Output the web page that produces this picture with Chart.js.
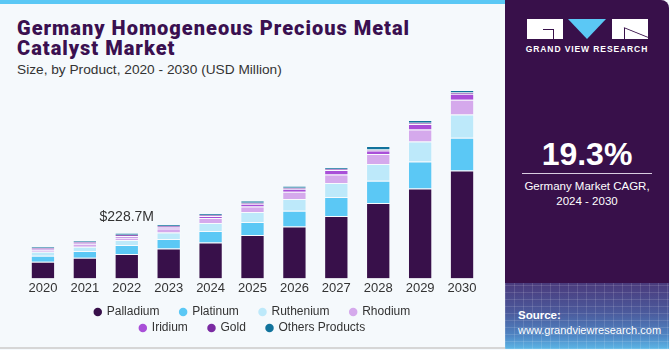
<!DOCTYPE html>
<html>
<head>
<meta charset="utf-8">
<script src="https://cdn.jsdelivr.net/npm/chart.js@4"></script>
<style>
  body { margin: 0; width: 670px; height: 350px; background: #f5f9fc; font-family: "Liberation Sans", Arial, sans-serif; position: relative; overflow: hidden; }
  .topline { position: absolute; left: 0; top: 0; width: 505px; height: 4px; background: #5bc8f5; }
  .bottomline { position: absolute; left: 0; top: 347px; width: 505px; height: 2px; background: #d6d6d6; }
  .title { position: absolute; left: 17px; top: 18px; font-family: Roboto, "Liberation Sans", Arial, sans-serif; font-weight: 900; font-size: 20px; line-height: 20px; letter-spacing: 1px; color: #3a1050; }
  .subtitle { position: absolute; left: 17px; top: 62px; font-size: 13.7px; color: #333; }
  #wrap { position: absolute; left: 0; top: 80px; width: 505px; height: 268px; }
  .panel { position: absolute; left: 505px; top: 0; width: 164px; height: 349px; background: #38104a; border-top-right-radius: 8px; overflow: hidden; color: #fff; }
  .panel .grid { position: absolute; left: 0; top: 283px; width: 100%; height: 66px;
    background:
      repeating-linear-gradient(90deg, rgba(255,255,255,0.12) 0 1px, transparent 1px 9px),
      repeating-linear-gradient(0deg, rgba(255,255,255,0.12) 0 1px, transparent 1px 7px),
      linear-gradient(to bottom, #4a3a7c 0%, #4b5a9c 45%, #4f86c4 80%, #5cb6e6 100%); }
  .logo { position: absolute; left: 22px; top: 19px; width: 121px; height: 20px; }
  .logo .g { position: absolute; left: 0; top: 0; width: 36px; height: 20px; background: #fff; }
  .logo .g:before { content: ""; position: absolute; left: 16px; top: 10px; width: 10px; height: 1px; background: #38104a; }
  .logo .g:after { content: ""; position: absolute; left: 26px; top: 10px; width: 1px; height: 10px; background: #38104a; }
  .logo .v { position: absolute; left: 41px; top: 0; width: 0; height: 0; border-left: 19.5px solid transparent; border-right: 19.5px solid transparent; border-top: 20px solid #5bc8f5; }
  .logo .r { position: absolute; left: 85px; top: 0; width: 36px; height: 20px; background: #fff; }
  .logo .r:before { content: ""; position: absolute; left: 12px; top: 9px; width: 1px; height: 11px; background: #38104a; }
  .logo .r:after { content: ""; position: absolute; left: 11px; top: 13px; width: 26px; height: 1px; background: #38104a; transform: rotate(22deg); }
  .gvr { position: absolute; left: 0; top: 44px; width: 164px; text-align: center; font-size: 8.5px; font-weight: bold; letter-spacing: 0.9px; }
  .cagr { position: absolute; left: 0; top: 136px; width: 164px; text-align: center; font-size: 32px; font-weight: bold; }
  .rule { position: absolute; left: 17px; top: 173px; width: 130px; height: 1px; background: #d8cde0; }
  .cagrtxt { position: absolute; left: 0; top: 179px; width: 164px; text-align: center; font-size: 11.5px; line-height: 14.5px; }
  .source { position: absolute; left: 13px; top: 308px; font-size: 11px; line-height: 15px; }
  .source b { font-size: 11.5px; }
</style>
</head>
<body>
<div class="topline"></div>
<div class="title">Germany Homogeneous Precious Metal<br>Catalyst Market</div>
<div class="subtitle">Size, by Product, 2020 - 2030 (USD Million)</div>
<div id="wrap"><canvas id="chart"></canvas></div>
<div class="bottomline"></div>
<div class="panel">
  <div class="grid"></div>
  <div class="logo"><div class="g"></div><div class="v"></div><div class="r"></div></div>
  <div class="gvr">GRAND VIEW RESEARCH</div>
  <div class="cagr">19.3%</div>
  <div class="rule"></div>
  <div class="cagrtxt">Germany Market CAGR,<br>2024 - 2030</div>
  <div class="source"><b>Source:</b><br>www.grandviewresearch.com</div>
</div>
<script>
const years = ['2020', '2021', '2022', '2023', '2024', '2025', '2026', '2027', '2028', '2029', '2030'];

const palladium = [83, 103, 121.5, 150, 180, 216.5, 260, 311.5, 376.5, 450, 540];
const platinum  = [30, 33.5, 45, 46.5, 56.5, 65, 78.5, 95, 111.5, 135, 163.5];
const ruthenium = [20, 21.5, 25, 33.5, 40, 50, 58.5, 70, 83.5, 100, 116.5];
const rhodium   = [10, 15, 11.5, 20, 25, 28.5, 36.5, 43.5, 50, 60, 73.5];
const iridium   = [5, 5, 9, 6.5, 10, 13.5, 15, 21.5, 18.5, 26.5, 30];
const gold      = [5, 5, 6.5, 5, 5, 5, 5, 5, 5, 6.5, 6.5];
const others    = [7, 8.5, 10.2, 8.5, 8.5, 11.5, 8.5, 8.5, 16.5, 13.5, 11.5];

const seriesNames = ['Palladium', 'Platinum', 'Ruthenium', 'Rhodium', 'Iridium', 'Gold', 'Others Products'];
const seriesColors = ['#38104a', '#5bc8f5', '#bde9fa', '#d5a9ec', '#a94fd8', '#7a2aa2', '#11739c'];
const seriesData = [palladium, platinum, ruthenium, rhodium, iridium, gold, others];

const labelIndex = 2;
const labelText = '$228.7M';

const legendFont = { size: 12, family: '"Liberation Sans", Arial, sans-serif' };
const legendGap = '     ';   // trailing spaces widen the gap between legend items
const legendRowWidth = 375;   // forces the legend onto two rows (4 + 3)

const totalLabel = {
  id: 'totalLabel',
  afterDatasetsDraw(chart) {
    const meta = chart.getDatasetMeta(chart.data.datasets.length - 1);
    const bar = meta.data[labelIndex];
    const ctx = chart.ctx;
    ctx.save();
    ctx.font = '14px "Liberation Sans", Arial, sans-serif';
    ctx.fillStyle = '#333';
    ctx.textAlign = 'center';
    ctx.textBaseline = 'middle';
    ctx.fillText(labelText, bar.x, bar.y - 16);
    ctx.restore();
  }
};

// wrap the legend at a narrower width but keep it centred on the whole canvas
const legendWrap = {
  id: 'legendWrap',
  beforeLayout(chart) {
    const lg = chart.legend;
    if (!lg || lg._wrapPatched) return;
    const fit = lg.fit;
    lg.fit = function () {
      const full = this.maxWidth;
      this.maxWidth = legendRowWidth;
      fit.call(this);
      this.maxWidth = full;
      this.width = full;
      const sw = this.ctx.measureText(legendGap).width;
      this.lineWidths = this.lineWidths.map(w => w - sw);
    };
    lg._wrapPatched = true;
  }
};

new Chart(document.getElementById('chart'), {
  type: 'bar',
  data: {
    labels: years,
    datasets: seriesData.map((d, i) => ({
      label: seriesNames[i],
      data: d,
      backgroundColor: seriesColors[i],
      borderColor: 'rgba(255,255,255,0.25)',
      borderWidth: 1,
      barPercentage: 0.58,
      categoryPercentage: 1
    }))
  },
  options: {
    responsive: true,
    maintainAspectRatio: false,
    animation: false,
    layout: { padding: { left: 22, right: 22, top: 0, bottom: 4 } },
    scales: {
      x: {
        stacked: true,
        grid: { display: false, drawTicks: false },
        border: { display: false },
        ticks: { color: '#333', font: { size: 13, family: '"Liberation Sans", Arial, sans-serif' }, padding: 2 },
        afterFit(scale) { scale.height += 4; }
      },
      y: {
        stacked: true,
        display: false,
        min: 0,
        max: 992
      }
    },
    plugins: {
      tooltip: { enabled: false },
      legend: {
        position: 'bottom',
        labels: {
          usePointStyle: true,
          pointStyle: 'circle',
          boxWidth: 6,
          boxHeight: 6,
          padding: 4,
          color: '#333',
          font: legendFont,
          generateLabels(chart) {
            return chart.data.datasets.map((ds, i) => ({
              text: ds.label + legendGap,
              fillStyle: ds.backgroundColor,
              strokeStyle: ds.backgroundColor,
              lineWidth: 0,
              pointStyle: 'circle',
              datasetIndex: i,
              fontColor: '#333'
            }));
          }
        }
      }
    }
  },
  plugins: [totalLabel, legendWrap]
});
</script>
</body>
</html>
